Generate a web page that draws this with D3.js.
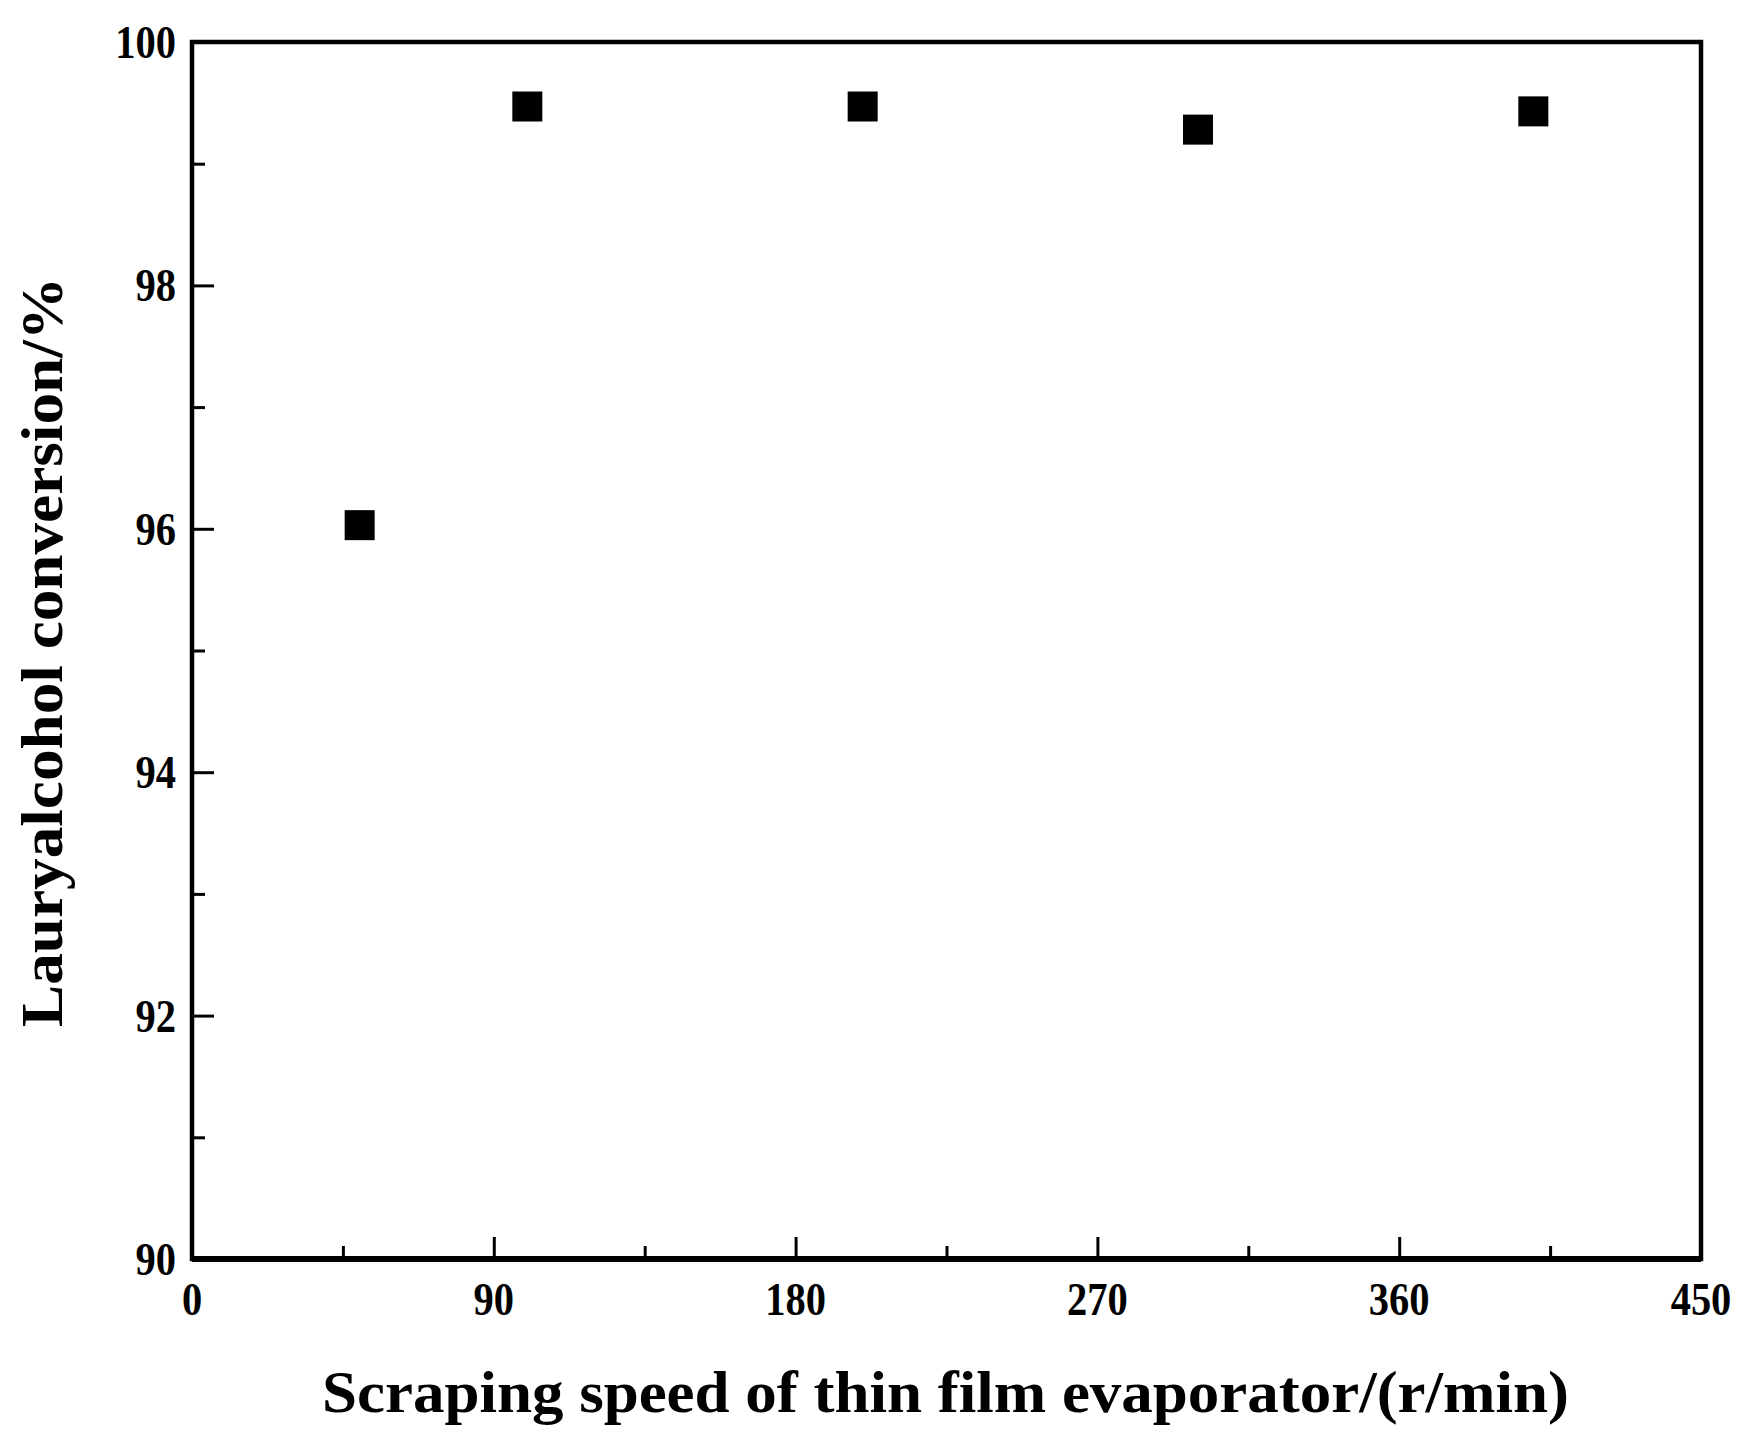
<!DOCTYPE html><html><head><meta charset="utf-8"><script src="https://cdn.jsdelivr.net/npm/d3@7"></script>
<style>body{margin:0;background:#fff}</style></head><body><script>
const speeds=[50,100,200,300,400];
const conversion=[96.03,99.47,99.47,99.28,99.43];
const xTicks=[0,90,180,270,360,450];
const yTicks=[90,92,94,96,98,100];
const W=1753,H=1444,L=192,R=1701,T=42,B=1259;
const svg=d3.select("body").append("svg").attr("width",W).attr("height",H);
const x=d3.scaleLinear().domain([0,450]).range([L,R]);
const y=d3.scaleLinear().domain([90,100]).range([B,T]);
const font="'Liberation Serif','Times New Roman',serif";
svg.append("rect").attr("x",L).attr("y",T).attr("width",R-L).attr("height",B-T).attr("fill","none").attr("stroke","#000").attr("stroke-width",4.5);
svg.append("line").attr("x1",L).attr("x2",R).attr("y1",B).attr("y2",B).attr("stroke","#000").attr("stroke-width",6);
const xa=svg.append("g").attr("transform",`translate(0,${B})`).call(d3.axisBottom(x).tickValues(d3.range(0,451,45)).tickSize(-22).tickFormat(""));
xa.selectAll(".tick line").attr("stroke-width",3).attr("y2",(d)=>d%90===0?-22:-13);
const ya=svg.append("g").attr("transform",`translate(${L},0)`).call(d3.axisLeft(y).tickValues(d3.range(90,100.01,1)).tickSize(-22).tickFormat(""));
ya.selectAll(".tick line").attr("stroke-width",3).attr("x2",(d)=>d%2===0?22:13);
svg.selectAll(".domain").remove();
svg.append("g").selectAll("text").data(xTicks).join("text").attr("x",d=>x(d)).attr("y",B+56)
 .attr("text-anchor","middle").attr("font-family",font).attr("font-weight","bold").attr("font-size",46)
 .attr("transform",d=>`translate(${x(d)},0) scale(0.88,1) translate(${-x(d)},0)`).text(d=>d);
svg.append("g").selectAll("text").data(yTicks).join("text").attr("x",L-16).attr("y",d=>y(d)+16)
 .attr("text-anchor","end").attr("font-family",font).attr("font-weight","bold").attr("font-size",46)
 .attr("transform",`translate(${L-16},0) scale(0.88,1) translate(${-(L-16)},0)`).text(d=>d);
svg.append("g").selectAll("rect").data(speeds).join("rect").attr("x",(d)=>x(d)-15).attr("y",(d,i)=>y(conversion[i])-15)
 .attr("width",30).attr("height",30).attr("fill","#000");
svg.append("text").attr("x",(L+R)/2-1).attr("y",1412).attr("text-anchor","middle").attr("font-family",font).attr("font-weight","bold")
 .attr("font-size",60).attr("textLength",1247).attr("lengthAdjust","spacingAndGlyphs").text("Scraping speed of thin film evaporator/(r/min)");
svg.append("text").attr("transform","translate(62,652) rotate(-90)").attr("text-anchor","middle").attr("font-family",font).attr("font-weight","bold")
 .attr("font-size",60).attr("textLength",750).attr("lengthAdjust","spacingAndGlyphs").text("Lauryalcohol conversion/%");
</script></body></html>
